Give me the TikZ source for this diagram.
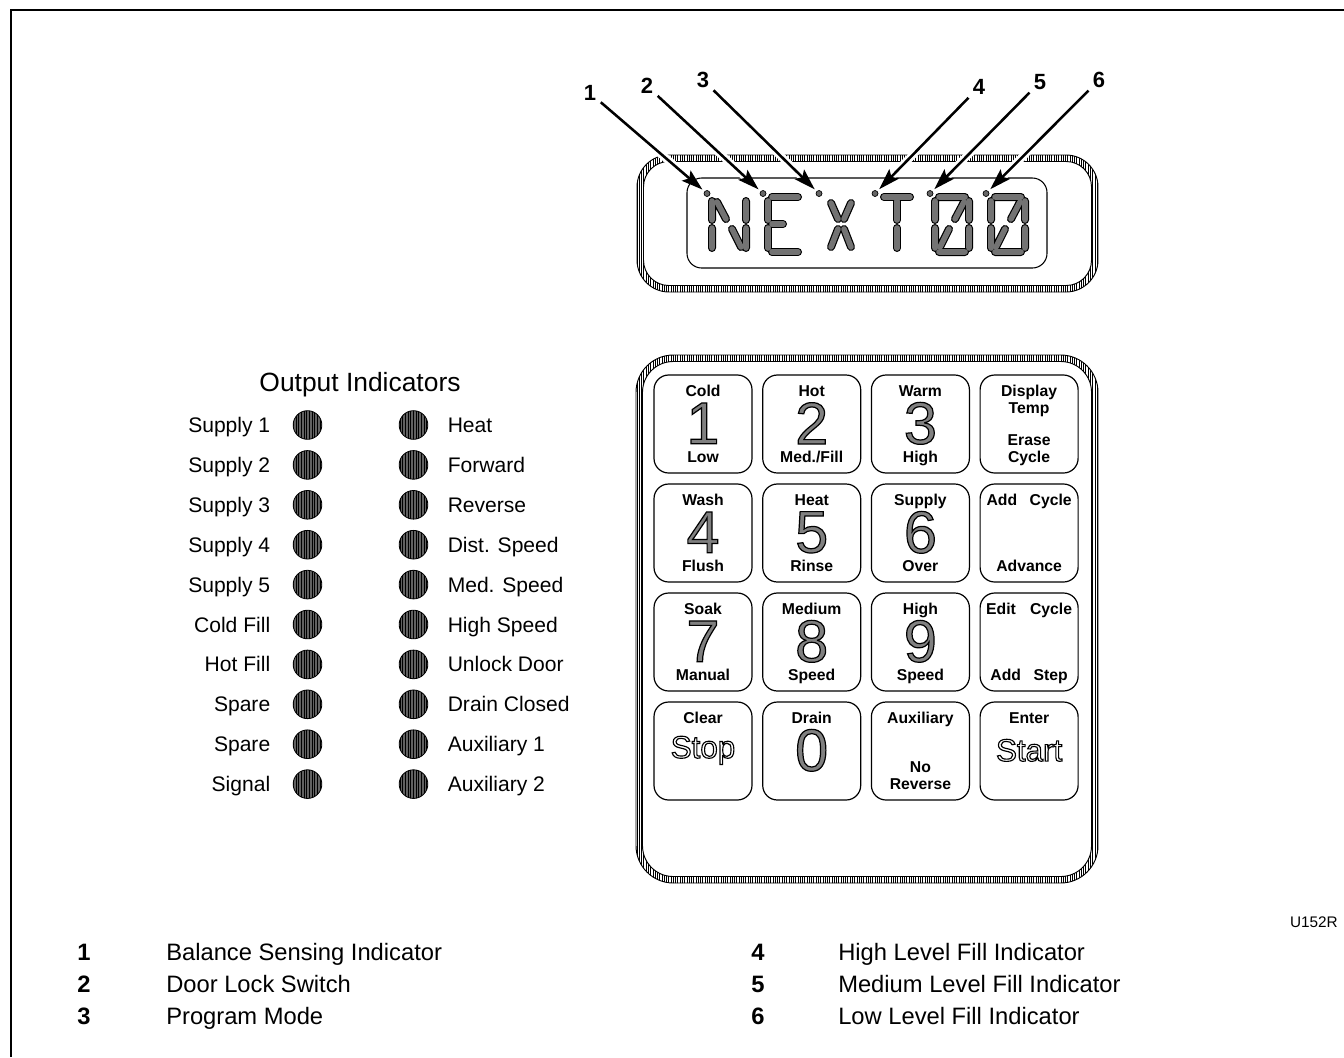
\documentclass[tikz,border=0pt]{standalone}
\usepackage{fontspec}
\setmainfont{Liberation Sans}
\usetikzlibrary{positioning,arrows.meta,patterns.meta}

% big key digits (grey, outlined) and words (outline only)
\newcommand{\kd}[1]{{\fontsize{44.5}{45}\selectfont\special{pdf:literal direct q 2 Tr 0.9 w 0.5 g 0 G}#1\special{pdf:literal direct Q}}}
\newcommand{\kw}[1]{{\fontsize{23.5}{24}\selectfont\special{pdf:literal direct q 1 Tr 0.85 w 0 G}#1\special{pdf:literal direct Q}}}

\begin{document}
\begin{tikzpicture}[x=0.75pt,y=-0.75pt,
    hatch/.style={pattern={Lines[angle=90,distance=1.7pt,line width=0.45pt]}},
    seg/.style={line width=6pt, line cap=round, black, postaction={draw, line width=4.2pt, black!55}},
    lcddot/.style={circle, draw, fill=black!60, minimum size=4.5pt, inner sep=0pt, line width=0.5pt},
    callout/.style={-{Stealth[length=16pt,width=10pt,inset=3pt]}, line width=1.9pt,
        shorten >=2pt, shorten <=3pt,
        preaction={draw=white, -, line width=6pt, shorten >=14pt}},
    calnum/.style={font=\fontsize{16.5}{18}\selectfont\bfseries, inner sep=1pt},
    keybox/.style={draw, line width=0.9pt, rounded corners=11pt, minimum width=73.5pt, minimum height=73.5pt, inner sep=0pt},
    keytext/.style={font=\fontsize{11.8}{12.4}\selectfont\bfseries, align=center, inner sep=0pt},
    led/.style={circle, draw, line width=0.6pt, minimum size=21.5pt, inner sep=0pt, fill=black!62,
        postaction={pattern={Lines[angle=90,distance=2pt,line width=0.6pt]}}},
    lbl/.style={font=\fontsize{15.8}{18}\selectfont, inner sep=0pt},
    legnum/.style={font=\fontsize{17.8}{20}\selectfont\bfseries, anchor=base west, inner sep=0pt},
    legtxt/.style={font=\fontsize{17.8}{20}\selectfont, anchor=base west, inner sep=0pt}]

    \useasboundingbox (0,0) rectangle (1344,1057);

    % page frame
    \draw[line width=1.8pt] (11,1057) -- (11,10) -- (1344,10);

    % display housing
    \path[hatch, even odd rule] [rounded corners=24pt] (637,155) rectangle (1098,292)
        [rounded corners=19pt] (643.5,161.5) rectangle (1091.5,285.5);
    \draw[line width=0.7pt, rounded corners=24pt] (637,155) rectangle (1098,292);
    \draw[line width=0.7pt, rounded corners=19pt] (643.5,161.5) rectangle (1091.5,285.5);
    \draw[line width=0.8pt, rounded corners=11pt] (687,178) rectangle (1047,268);

    % NEXT00 segments
    \begin{scope}[shift={(712,197)}] % N
        \draw[seg] (0,4)--(0,23) (0,31)--(0,51) (5,5)--(14,22) (34,4)--(34,23) (34,31)--(34,51) (20,32)--(29,50);
    \end{scope}
    \begin{scope}[shift={(768,197)}] % E
        \draw[seg] (4,0)--(30,0) (0,4)--(0,23) (0,31)--(0,51) (4,27)--(15,27) (4,55)--(30,55);
    \end{scope}
    \begin{scope}[shift={(824,197)}] % X
        \draw[seg] (7,6)--(14,22) (27,6)--(20,22) (14,32)--(7,50) (20,32)--(27,50);
    \end{scope}
    \begin{scope}[shift={(880,197)}] % T
        \draw[seg] (4,0)--(30,0) (17,4)--(17,23) (17,31)--(17,51);
    \end{scope}
    \foreach \gx in {935,991} { % zeros
        \begin{scope}[shift={(\gx,197)}]
            \draw[seg] (4,0)--(30,0) (34,4)--(34,23) (34,31)--(34,51) (4,55)--(30,55)
                (0,31)--(0,51) (0,4)--(0,23) (29,5)--(20,22) (14,32)--(5,50);
        \end{scope}
    }

    % callouts
    \foreach \i/\nx/\ny/\dx in {1/590/93/707, 2/647/86/763, 3/703/80/819, 4/979/87/875, 5/1040/82/930, 6/1099/80/986} {
        \node[calnum] (c\i) at (\nx,\ny) {\i};
        \node[lcddot] (dot\i) at (\dx,193.5) {};
        \draw[callout] (c\i) -- (dot\i);
    }

    % keypad housing
    \path[hatch, even odd rule] [rounded corners=28pt] (636,355) rectangle (1098,883)
        [rounded corners=23pt] (642.5,361.5) rectangle (1091.5,876.5);
    \draw[line width=0.7pt, rounded corners=28pt] (636,355) rectangle (1098,883);
    \draw[line width=0.7pt, rounded corners=23pt] (642.5,361.5) rectangle (1091.5,876.5);

    % keys
    \foreach \c/\r/\keytop/\keymain/\keybot in {
        0/0/Cold/\kd{1}/Low, 1/0/Hot/\kd{2}/{Med./Fill}, 2/0/Warm/\kd{3}/High, 3/0/{Display\\Temp}/{}/{Erase\\Cycle},
        0/1/Wash/\kd{4}/Flush, 1/1/Heat/\kd{5}/Rinse, 2/1/Supply/\kd{6}/Over, 3/1/{Add\hspace{0.8em}Cycle}/{}/Advance,
        0/2/Soak/\kd{7}/Manual, 1/2/Medium/\kd{8}/Speed, 2/2/High/\kd{9}/Speed, 3/2/{Edit\hspace{0.9em}Cycle}/{}/{Add\hspace{0.8em}Step},
        0/3/Clear/\kw{Stop}/{}, 1/3/Drain/\kd{0}/{}, 2/3/Auxiliary/{}/{No\\Reverse}, 3/3/Enter/\kw{Start}/{}} {
        \node[keybox] (key\c\r) at ({703+108.7*\c},{424+109*\r}) {};
        \node[keytext, anchor=north] (keyup\c\r) at ([yshift=-8pt]key\c\r.north) {\keytop};
        \node[inner sep=0pt] (keybig\c\r) at ([yshift=0.5pt]key\c\r.center) {\keymain};
        \node[keytext, anchor=south, text depth=0pt] (keylow\c\r) at ([yshift=8.5pt]key\c\r.south) {\keybot};
    }

    % output indicators
    \node[font=\fontsize{19.8}{22}\selectfont, anchor=base, inner sep=0pt] (outtitle) at (360,391.5) {Output Indicators};
    \foreach \lab [count=\i] in {Supply 1, Supply 2, Supply 3, Supply 4, Supply 5, Cold Fill, Hot Fill, Spare, Spare, Signal} {
        \node[led] (ledL\i) at (307.5,{425+39.9*(\i-1)}) {};
        \node[lbl, anchor=base east] (lblL\i) at (270.5,{432.5+39.9*(\i-1)}) {\lab};
    }
    \foreach \lab [count=\i] in {Heat, Forward, Reverse, Dist. Speed, Med. Speed, High Speed, Unlock Door, Drain Closed, Auxiliary 1, Auxiliary 2} {
        \node[led] (ledR\i) at (413.5,{425+39.9*(\i-1)}) {};
        \node[lbl, anchor=base west] (lblR\i) at (447.5,{432.5+39.9*(\i-1)}) {\lab};
    }

    % figure id
    \node[font=\fontsize{11.5}{13}\selectfont, anchor=base east, inner sep=0pt] (figid) at (1338,927) {U152R};

    % legend
    \foreach \n/\t [count=\i] in {1/Balance Sensing Indicator, 2/Door Lock Switch, 3/Program Mode} {
        \node[legnum] (num\n) at (77,{960+32*(\i-1)}) {\n};
        \node[legtxt] (leg\n) at (166,{960+32*(\i-1)}) {\t};
    }
    \foreach \n/\t [count=\i] in {4/High Level Fill Indicator, 5/Medium Level Fill Indicator, 6/Low Level Fill Indicator} {
        \node[legnum] (num\n) at (751,{960+32*(\i-1)}) {\n};
        \node[legtxt] (leg\n) at (838,{960+32*(\i-1)}) {\t};
    }
\end{tikzpicture}
\end{document}
